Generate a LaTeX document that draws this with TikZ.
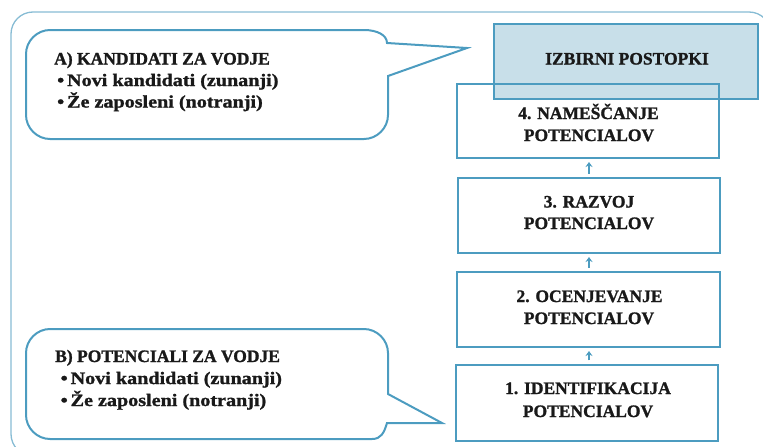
\documentclass[tikz,border=0pt]{standalone}
\usepackage{fontspec}
\setmainfont{Liberation Serif}[BoldFeatures={FakeBold=1.3}]
\newfontfamily\widefont{Liberation Serif}[FakeStretch=1.15,BoldFeatures={FakeBold=1.3}]
\usetikzlibrary{arrows.meta}
\definecolor{edge}{RGB}{76,156,192}
\definecolor{frameline}{RGB}{135,188,212}
\definecolor{headfill}{RGB}{200,223,233}
\begin{document}
\begin{tikzpicture}[x=1pt,y=-1pt,
  txt/.style={inner sep=0pt,text=black!90,font=\fontsize{17.5}{21}\selectfont\bfseries},
  wtxt/.style={inner sep=0pt,text=black!90,font=\widefont\fontsize{17.5}{21}\selectfont\bfseries},
  stepbox/.style={draw=edge,line width=2pt,inner sep=0pt},
  callout/.style={draw=edge,line width=2pt,line join=miter},
  uparrow/.style={draw=edge,line width=1.6pt,-{Stealth[length=5pt,width=7pt]},shorten <=3.5pt,shorten >=3pt}]
\useasboundingbox (0,0) rectangle (763,447);
\begin{scope}
\clip (0,0) rectangle (763,447);
\draw[frameline,line width=1.3pt,rounded corners=22pt] (11,12) rectangle (771,456);
\end{scope}
% callout A
\draw[callout] (26,54) .. controls (26,41) and (37,30) .. (50,30) -- (364,30)
  .. controls (377,30) and (387,35) .. (387,43) -- (467,48) -- (388,76) -- (388,115)
  .. controls (388,128) and (377,139) .. (364,139) -- (50,139)
  .. controls (37,139) and (26,128) .. (26,115) -- cycle;
% callout B
\draw[callout] (26,353) .. controls (26,340) and (37,329) .. (50,329) -- (364,329)
  .. controls (377,329) and (388,340) .. (388,353) -- (388,394) -- (442,423) -- (387,423)
  .. controls (384,433) and (381,439) .. (372,439) -- (50,439)
  .. controls (37,439) and (26,428) .. (26,415) -- cycle;
% boxes
\node[stepbox,fill=headfill,minimum width=264pt,minimum height=75pt] (head) at (626,61.5) {};
\node[stepbox,minimum width=262pt,minimum height=74pt] (b4) at (588,121) {};
\node[stepbox,minimum width=262pt,minimum height=75pt] (b3) at (589,215.5) {};
\node[stepbox,minimum width=263pt,minimum height=75pt] (b2) at (588.5,309.5) {};
\node[stepbox,line width=2.4pt,minimum width=262pt,minimum height=76pt] (b1) at (587,403) {};
% arrows
\draw[uparrow] (b1.north -| 589,0) -- (b2.south -| 589,0);
\draw[uparrow] (b2.north -| 589,0) -- (b3.south -| 589,0);
\draw[uparrow] (b3.north -| 589,0) -- (b4.south -| 589,0);
% texts
\node[txt,anchor=base] (th) at (627,64.5) {IZBIRNI POSTOPKI};
\node[txt,anchor=base] (t4a) at (588.5,119) {4. NAMEŠČANJE};
\node[txt,anchor=base] (t4b) at (589,141) {POTENCIALOV};
\node[txt,anchor=base] (t3a) at (589,207.5) {3. RAZVOJ};
\node[txt,anchor=base] (t3b) at (589,229) {POTENCIALOV};
\node[txt,anchor=base] (t2a) at (589.5,302) {2. OCENJEVANJE};
\node[txt,anchor=base] (t2b) at (589,324) {POTENCIALOV};
\node[txt,anchor=base] (t1a) at (588,394) {1. IDENTIFIKACIJA};
\node[txt,anchor=base] (t1b) at (588,417) {POTENCIALOV};
\node[txt,anchor=base west] (ta0) at (54,64.5) {A) KANDIDATI ZA VODJE};
\node[wtxt,anchor=base west] (ta1) at (57,86) {\textbullet\,Novi kandidati (zunanji)};
\node[wtxt,anchor=base west] (ta2) at (57,107.5) {\textbullet\,Že zaposleni (notranji)};
\node[txt,anchor=base west] (tb0) at (55,362) {B) POTENCIALI ZA VODJE};
\node[wtxt,anchor=base west] (tb1) at (60.5,384) {\textbullet\,Novi kandidati (zunanji)};
\node[wtxt,anchor=base west] (tb2) at (60.5,406) {\textbullet\,Že zaposleni (notranji)};
\end{tikzpicture}
\end{document}
